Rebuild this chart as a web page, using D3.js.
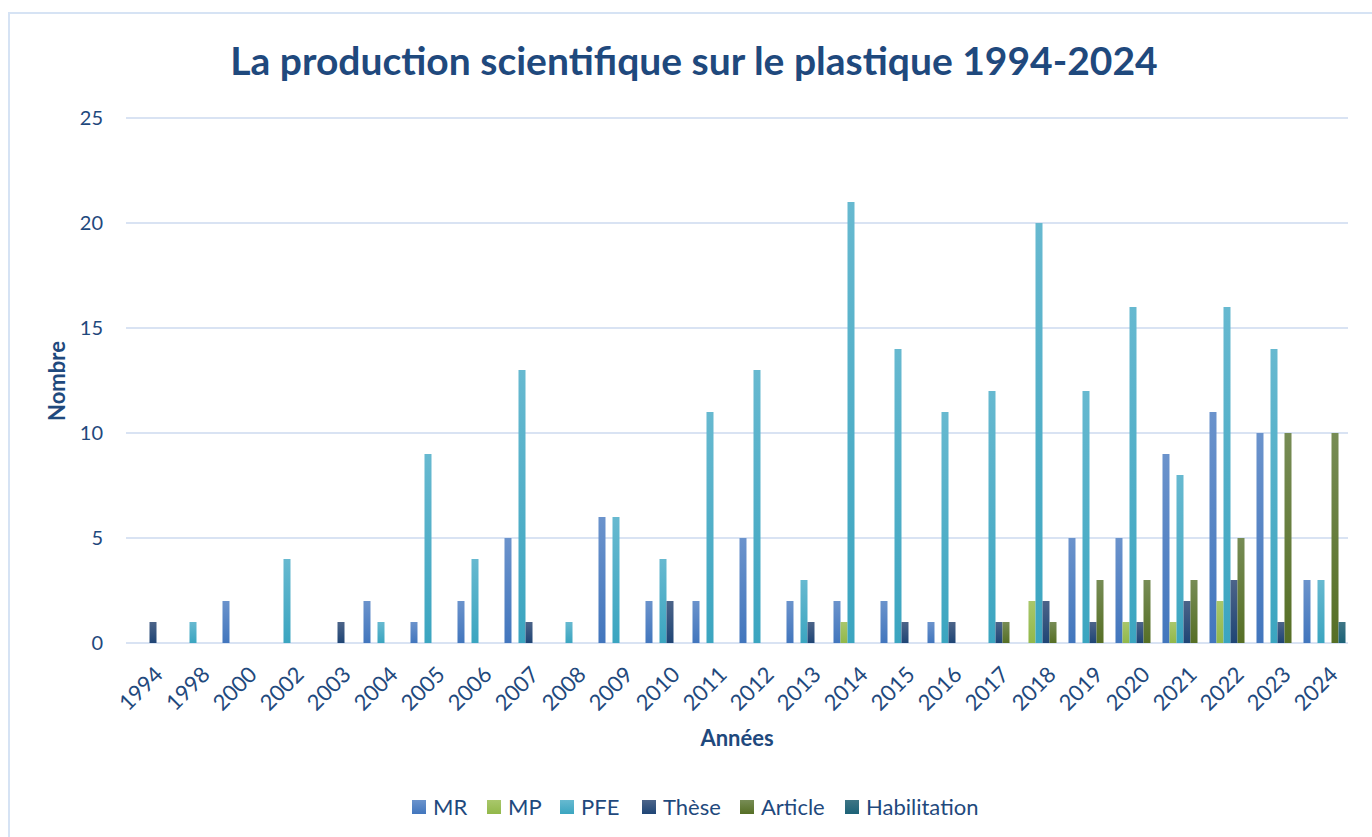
<!DOCTYPE html>
<html>
<head>
<meta charset="utf-8">
<script src="https://cdn.jsdelivr.net/npm/d3@7"></script>
<style>
  body { margin: 0; background: #fff; }
  text { font-family: Lato, "Open Sans", sans-serif; }
</style>
</head>
<body>
<div id="chart"></div>
<script>
const years = ["1994","1998","2000","2002","2003","2004","2005","2006","2007","2008","2009","2010","2011","2012","2013","2014","2015","2016","2017","2018","2019","2020","2021","2022","2023","2024"];
const seriesNames = ["MR", "MP", "PFE", "Thèse", "Article", "Habilitation"];
const mr      = [0,0,2,0,0,2,1,2,5,0,6,2,2,5,2,2,2,1,0,0,5,5,9,11,10,3];
const mp      = [0,0,0,0,0,0,0,0,0,0,0,0,0,0,0,1,0,0,0,2,0,1,1,2,0,0];
const pfe     = [0,1,0,4,0,1,9,4,13,1,6,4,11,13,3,21,14,11,12,20,12,16,8,16,14,3];
const these   = [1,0,0,0,1,0,0,0,1,0,0,2,0,0,1,0,1,1,1,2,1,1,2,3,1,0];
const article = [0,0,0,0,0,0,0,0,0,0,0,0,0,0,0,0,0,0,1,1,3,3,3,5,10,10];
const habil   = [0,0,0,0,0,0,0,0,0,0,0,0,0,0,0,0,0,0,0,0,0,0,0,0,0,1];
const yTicks = [0, 5, 10, 15, 20, 25];

const allSeries = [mr, mp, pfe, these, article, habil];
// [top colour, bottom colour] for the slight vertical gradient
const colours = [
  ["#6b93cc", "#4276bd"],
  ["#a9c76b", "#92b84a"],
  ["#67b9d0", "#3ba5c0"],
  ["#4c6489", "#1f4575"],
  ["#778c55", "#566f25"],
  ["#3e7585", "#1c6277"]
];

const width = 1372, height = 837;
const margins = {top: 118, right: 24, bottom: 194, left: 126};

const svg = d3.select("#chart").append("svg")
  .attr("width", width)
  .attr("height", height);

const defs = svg.append("defs");
colours.forEach(function(c, i) {
  const g = defs.append("linearGradient")
    .attr("id", "grad" + i)
    .attr("x1", 0).attr("y1", 0).attr("x2", 0).attr("y2", 1);
  g.append("stop").attr("offset", "0%").attr("stop-color", c[0]);
  g.append("stop").attr("offset", "100%").attr("stop-color", c[1]);
});

// outer frame
svg.append("rect")
  .attr("x", 9).attr("y", 13)
  .attr("width", 1400).attr("height", 900)
  .attr("fill", "none")
  .attr("stroke", "#d6e3f4")
  .attr("stroke-width", 2);

const x0 = d3.scaleBand()
  .domain(years)
  .range([margins.left, width - margins.right])
  .paddingInner(0.106)
  .paddingOuter(0.053);

const x1 = d3.scaleBand()
  .domain(d3.range(seriesNames.length))
  .range([0, x0.bandwidth()]);

const y = d3.scaleLinear()
  .domain([0, 25])
  .range([height - margins.bottom, margins.top]);

// gridlines
svg.append("g")
  .selectAll("line")
  .data(yTicks)
  .join("line")
    .attr("x1", margins.left)
    .attr("x2", width - margins.right)
    .attr("y1", d => y(d))
    .attr("y2", d => y(d))
    .attr("stroke", "#d9e3f3")
    .attr("stroke-width", 2);

// y tick labels
svg.append("g")
  .selectAll("text")
  .data(yTicks)
  .join("text")
    .attr("x", 103)
    .attr("y", d => y(d))
    .attr("dy", "0.35em")
    .attr("text-anchor", "end")
    .attr("font-size", 20)
    .attr("fill", "#1f497d")
    .text(d => d);

// bars
const groups = svg.append("g")
  .selectAll("g")
  .data(years)
  .join("g")
    .attr("transform", d => "translate(" + x0(d) + ",0)");

groups.selectAll("rect")
  .data((d, i) => allSeries.map((s, k) => ({k: k, v: s[i]})).filter(e => e.v > 0))
  .join("rect")
    .attr("x", d => x1(d.k))
    .attr("y", d => y(d.v))
    .attr("width", x1.bandwidth())
    .attr("height", d => y(0) - y(d.v))
    .attr("fill", d => "url(#grad" + d.k + ")");

// x tick labels
svg.append("g")
  .selectAll("text")
  .data(years)
  .join("text")
    .attr("transform", d => "translate(" + (x0(d) + x0.bandwidth() / 2 + 4) + ",665) rotate(-45)")
    .attr("text-anchor", "end")
    .attr("dy", "0.7em")
    .attr("font-size", 22)
    .attr("fill", "#1f497d")
    .text(d => d);

// titles
svg.append("text")
  .attr("x", 694).attr("y", 75)
  .attr("text-anchor", "middle")
  .attr("font-size", 39)
  .attr("font-weight", "bold")
  .attr("fill", "#1f497d")
  .text("La production scientifique sur le plastique 1994-2024");

svg.append("text")
  .attr("x", 737).attr("y", 746)
  .attr("text-anchor", "middle")
  .attr("font-size", 22)
  .attr("font-weight", "bold")
  .attr("fill", "#1f497d")
  .text("Années");

svg.append("text")
  .attr("transform", "translate(65,381) rotate(-90)")
  .attr("text-anchor", "middle")
  .attr("font-size", 22)
  .attr("font-weight", "bold")
  .attr("fill", "#1f497d")
  .text("Nombre");

// legend
const legendX = [412, 487, 560, 642, 740, 845];
const legend = svg.append("g")
  .selectAll("g")
  .data(seriesNames)
  .join("g")
    .attr("transform", (d, i) => "translate(" + legendX[i] + ",800)");

legend.append("rect")
  .attr("width", 14).attr("height", 14)
  .attr("fill", (d, i) => "url(#grad" + i + ")");

legend.append("text")
  .attr("x", 21).attr("y", 7)
  .attr("dy", "0.36em")
  .attr("font-size", 22)
  .attr("fill", "#1f497d")
  .text(d => d);
</script>
</body>
</html>
